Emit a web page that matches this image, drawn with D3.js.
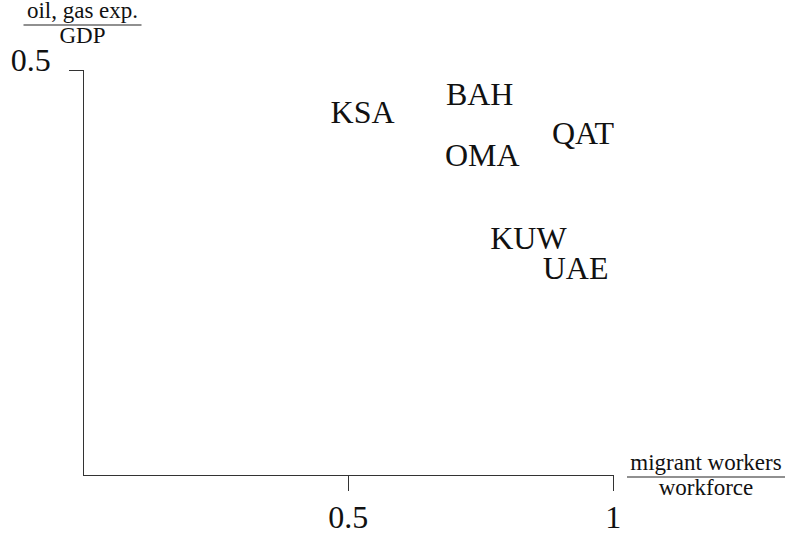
<!DOCTYPE html>
<html>
<head>
<meta charset="utf-8">
<script src="https://cdn.jsdelivr.net/npm/d3@7"></script>
<style>
  html, body { margin: 0; padding: 0; background: #fff; }
  svg { display: block; }
  svg text { fill: #111; }
  .axis path, .axis line { stroke: #333; stroke-width: 1; shape-rendering: crispEdges; }
</style>
</head>
<body>
<div id="chart"></div>
<script>
// values
const countries = ["KSA", "BAH", "QAT", "OMA", "KUW", "UAE"];
const migrantShare = [0.528, 0.749, 0.944, 0.754, 0.841, 0.930];   // migrant workers / workforce
const oilGasShare = [0.447, 0.469, 0.421, 0.394, 0.292, 0.255];    // oil, gas exp. / GDP
const xTicks = [0.5, 1];
const yTicks = [0.5];

const width = 788, height = 535;
const serif = '"Liberation Serif", "DejaVu Serif", "Noto Serif", Tinos, "Times New Roman", Times, "Nimbus Roman", FreeSerif, Georgia, serif';

const svg = d3.select('#chart')
    .append('svg')
    .attr('width', width)
    .attr('height', height)
    .style('font-family', serif);

const x = d3.scaleLinear().domain([0, 1]).range([82.7, 612.7]);
const y = d3.scaleLinear().domain([0, 0.5]).range([474.5, 69.5]);

const points = countries.map((c, i) => ({ name: c, x: migrantShare[i], y: oilGasShare[i] }));

// x axis
const xAxis = svg.append('g')
    .attr('class', 'axis')
    .attr('transform', `translate(0,${y(0)})`)
    .call(d3.axisBottom(x).tickValues(xTicks).tickSize(16).tickSizeOuter(0).tickFormat(d3.format('')));

xAxis.attr('font-family', null);
xAxis.selectAll('text')
    .attr('dy', null)
    .attr('y', 53)
    .style('font-family', serif)
    .style('font-size', '32px');

// y axis
const yAxis = svg.append('g')
    .attr('class', 'axis')
    .attr('transform', `translate(${x(0)},0)`)
    .call(d3.axisLeft(y).tickValues(yTicks).tickSize(14).tickSizeOuter(0).tickFormat(d3.format('')));

yAxis.attr('font-family', null);
yAxis.selectAll('text')
    .attr('dy', null)
    .attr('x', -32)
    .attr('y', 1)
    .style('font-family', serif)
    .style('font-size', '32px');

// fraction-style axis labels
function fraction(cx, lineY, top, bottom, lineW) {
    const f = svg.append('g').style('font-family', serif);
    f.append('text')
        .attr('x', cx).attr('y', lineY - 7)
        .attr('text-anchor', 'middle')
        .style('font-size', '23px')
        .text(top);
    f.append('line')
        .attr('x1', cx - lineW / 2).attr('x2', cx + lineW / 2)
        .attr('y1', lineY).attr('y2', lineY)
        .attr('stroke', '#222').attr('stroke-width', 1.2);
    f.append('text')
        .attr('x', cx).attr('y', lineY + 18)
        .attr('text-anchor', 'middle')
        .style('font-size', '23px')
        .text(bottom);
}

fraction(706, 477, "migrant workers", "workforce", 158);
fraction(82.5, 25, "oil, gas exp.", "GDP", 118);

// country labels as marks
svg.append('g')
    .selectAll('text')
    .data(points)
    .join('text')
    .attr('x', d => x(d.x))
    .attr('y', d => y(d.y))
    .attr('dy', '0.33em')
    .attr('text-anchor', 'middle')
    .style('font-family', serif)
    .style('font-size', '32px')
    .text(d => d.name);
</script>
</body>
</html>
